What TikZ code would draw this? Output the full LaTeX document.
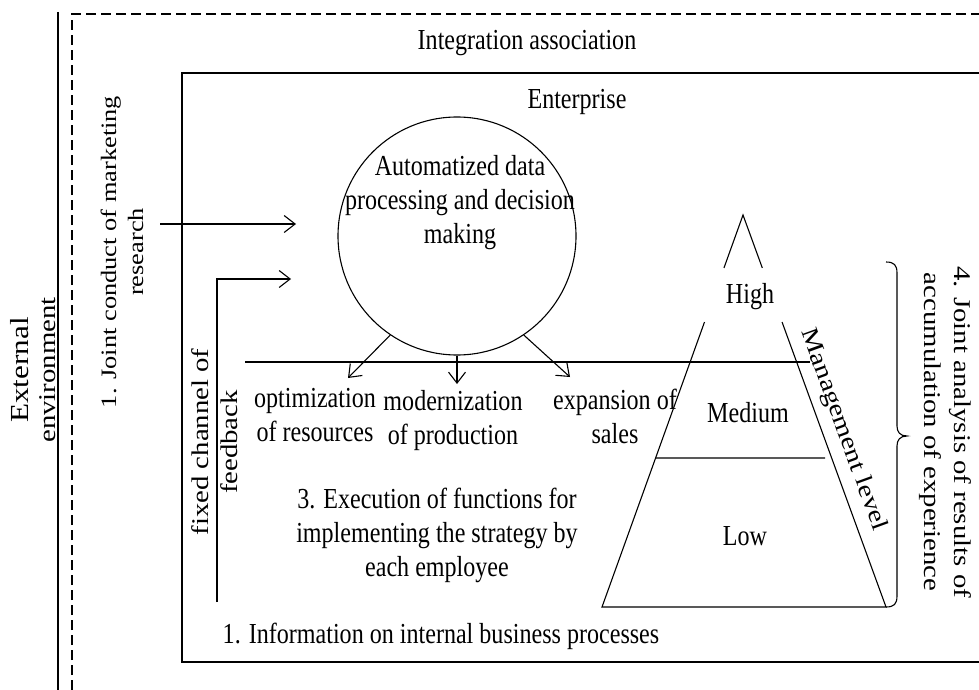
\documentclass[tikz,border=0pt]{standalone}
\usepackage{fontspec}
\setmainfont{Liberation Serif}
\newfontfamily\hfont[FakeStretch=0.83]{Liberation Serif}
\newfontfamily\vfont[FakeStretch=1.2]{Liberation Serif}
\usetikzlibrary{arrows.meta,calc}
\begin{document}
\begin{tikzpicture}[x=1pt,y=-1pt,
  ln/.style={line width=1.1pt},
  arr/.style={ln,-{Straight Barb[length=11pt,width=17pt,line width=1.1pt]}},
  htxt/.style={font=\hfont\fontsize{29}{34}\selectfont, inner sep=0pt, align=center},
  vtxt/.style={font=\vfont\fontsize{24}{28}\selectfont, inner sep=0pt, align=center},
]
\useasboundingbox (0,0) rectangle (979,690);
\fill[white] (0,0) rectangle (979,690);
\clip (0,0) rectangle (979,690);

% outer borders
\draw[ln] (58,12) -- (58,690);
\draw[ln, dash pattern=on 10pt off 5pt] (72,690) -- (72,14) -- (990,14);
\draw[line width=1.3pt] (182,73) rectangle (990,662);

% texts of frames
\node[htxt, anchor=base] (ia) at (527,50) {Integration association};
\node[htxt, anchor=base] (ent) at (577,109) {Enterprise};
\node[vtxt, rotate=90, font=\vfont\fontsize{24}{27}\selectfont] (ext) at (33,370) {{\fontsize{26}{27}\selectfont External}\\environment};
\node[vtxt, rotate=90, font=\vfont\fontsize{22}{27}\selectfont] (jc) at (122,252) {1. Joint conduct of marketing\\research};
\node[vtxt, rotate=90, font=\vfont\fontsize{24}{29}\selectfont] (fc) at (215,442) {fixed channel of\\feedback};
\node[vtxt, rotate=-90, font=\vfont\fontsize{24}{30}\selectfont] (ja) at (945,432) {4. Joint analysis of results of\\accumulation of experience};

% circle
\node[draw, circle, ln, minimum size=238pt, inner sep=0pt] (circ) at (457,236) {};
\node[htxt] (auto) at (460,203) {Automatized data\\processing and decision\\making};

% input arrows
\coordinate (a1s) at (160,224);
\coordinate (a1e) at (296,224);
\draw[arr] (a1s) -- (a1e);
\coordinate (fbs) at (217,602);
\coordinate (fbc) at (217,279);
\coordinate (fbe) at (291,279);
\draw[arr] (fbs) -- (fbc) -- (fbe);

% divider
\coordinate (dl) at (245,362);
\coordinate (dr) at (810,362);
\draw[ln] (dl) -- (dr);

% output arrows
\coordinate (o1) at (348,378);
\coordinate (o2) at (457,384);
\coordinate (o3) at (570,377);
\draw[arr] (circ.-124) -- (o1);
\draw[arr] (circ.south) -- (o2);
\draw[arr] (circ.-56) -- (o3);

\node[htxt] (opt) at (315,415) {optimization\\of resources};
\node[htxt] (mod) at (453,421) {modernization\\of production};
\node[htxt] (exp) at (615,416) {expansion of\\sales};
\node[htxt] (exe) at (437,535) {3. Execution of functions for\\implementing the strategy by\\each employee};
\node[htxt, anchor=base] (info) at (441,643) {1. Information on internal business processes};

% pyramid
\coordinate (apex) at (743,215);
\coordinate (bl) at (602,607);
\coordinate (br) at (886,607);
\coordinate (mr) at (825,458);
\draw[ln] ($(apex)!0.135!(bl)$) -- (apex) -- ($(apex)!0.135!(br)$);
\draw[ln] ($(apex)!0.273!(bl)$) -- (bl) -- (br) -- ($(apex)!0.273!(br)$);
\draw[ln] ($(apex)!0.62!(bl)$) -- (mr);
\node[htxt, anchor=base] (high) at (750,303) {High};
\node[htxt, anchor=base] (med) at (748,422) {Medium};
\node[htxt, anchor=base] (low) at (745,545) {Low};
\node[vtxt, rotate=-70] (ml) at (843,430) {Management level};

% brace
\coordinate (bt) at (886,262);
\coordinate (btip) at (907,436);
\coordinate (bb) at (886,607);
\draw[ln] (bt) .. controls (894,262) and (897,265) .. (897,273) -- (897,426)
  .. controls (897,432) and (900,436) .. (btip)
  .. controls (900,436) and (897,440) .. (897,446) -- (897,596)
  .. controls (897,604) and (894,607) .. (bb);
\end{tikzpicture}
\end{document}
